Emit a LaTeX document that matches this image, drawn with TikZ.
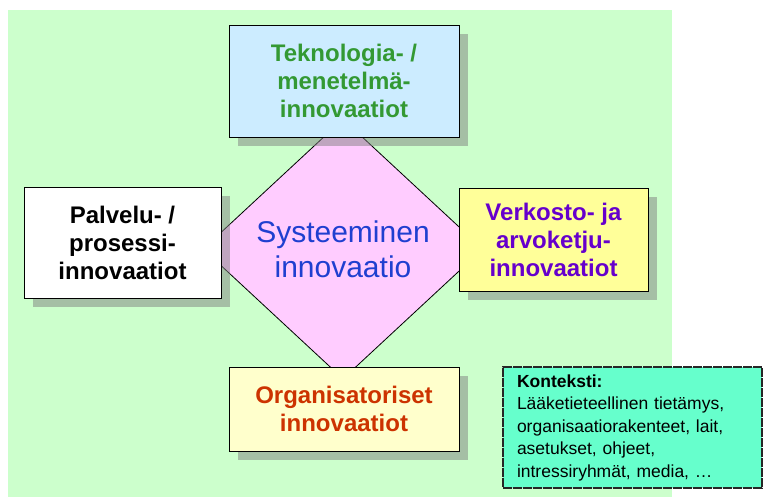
\documentclass[tikz,border=0pt]{standalone}
\usepackage{fontspec}
\setmainfont{Liberation Sans}
\usetikzlibrary{shapes.geometric,shadows}
\definecolor{bggreen}{HTML}{CCFFCC}
\definecolor{techblue}{HTML}{CCECFF}
\definecolor{netyellow}{HTML}{FFFF99}
\definecolor{orgyellow}{HTML}{FFFFCC}
\definecolor{diapink}{HTML}{FFCCFF}
\definecolor{ctxgreen}{HTML}{66FFCC}
\definecolor{txtgreen}{HTML}{339933}
\definecolor{txtpurple}{HTML}{6600CC}
\definecolor{txtred}{HTML}{CC3300}
\definecolor{txtblue}{HTML}{1F3FD0}
\begin{document}
\begin{tikzpicture}[x=1pt,y=-1pt,
  innobox/.style={draw=black, line width=0.8pt, inner sep=0pt, align=center,
    font=\fontsize{24}{28}\selectfont\bfseries,
    drop shadow={shadow xshift=9pt, shadow yshift=-9pt}},
  centrediamond/.style={diamond, draw=black, line width=0.8pt, fill=diapink,
    minimum width=280pt, minimum height=260pt, inner sep=0pt, align=center,
    text=txtblue, font=\fontsize{30}{35}\selectfont},
  contextbox/.style={draw=black!85, line width=2.5pt, dash pattern=on 9pt off 1pt,
    fill=ctxgreen, inner xsep=14pt, inner ysep=0pt, align=left,
    text width=231pt, minimum height=121pt, font=\fontsize{17.5}{22.5}\selectfont}]
\useasboundingbox (0,0) rectangle (764,497);
\fill[bggreen] (8,10) rectangle (672,497);
\node[centrediamond] (sys) at (343,249) {Systeeminen\\innovaatio};
\node[innobox, fill=techblue, text=txtgreen, minimum width=230pt, minimum height=112pt]
  (tek) at (344,81) {Teknologia- /\\menetelmä-\\innovaatiot};
\node[innobox, fill=white, text=black, minimum width=197pt, minimum height=111pt]
  (pal) at (122.5,242.5) {Palvelu- /\\prosessi-\\innovaatiot};
\node[innobox, fill=netyellow, text=txtpurple, minimum width=189pt, minimum height=103pt]
  (ver) at (553.5,239.5) {Verkosto- ja\\arvoketju-\\innovaatiot};
\node[innobox, fill=orgyellow, text=txtred, minimum width=230pt, minimum height=84pt]
  (org) at (344,409) {Organisatoriset\\innovaatiot};
\node[contextbox] (ctx) at (632.5,427.5) {\textbf{Konteksti:}\\Lääketieteellinen tietämys,\\organisaatiorakenteet, lait,\\asetukset, ohjeet,\\intressiryhmät, media, …};
\end{tikzpicture}
\end{document}
